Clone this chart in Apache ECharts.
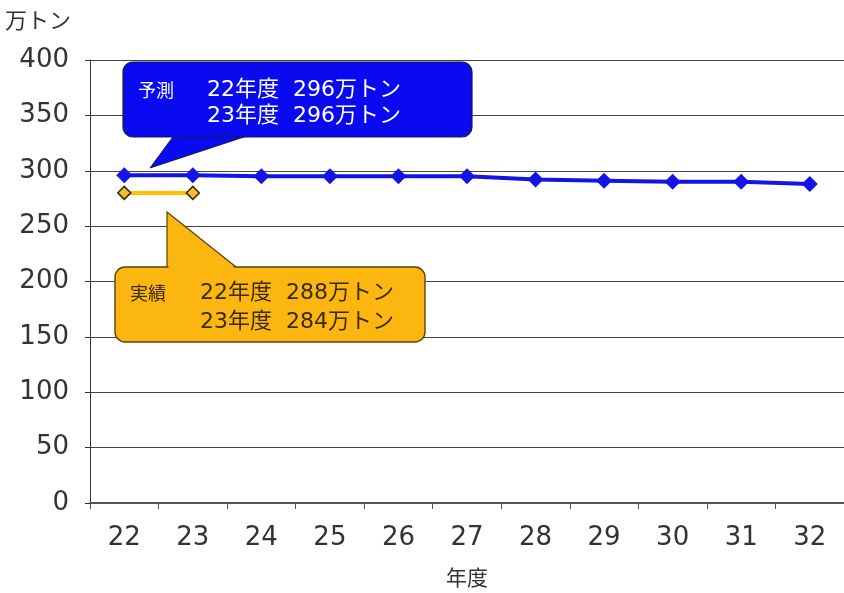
<!DOCTYPE html>
<html><head><meta charset="utf-8">
<script src="https://cdn.jsdelivr.net/npm/echarts@6/dist/echarts.min.js"></script>
<style>html,body{margin:0;padding:0;background:#fff}#c{width:844px;height:593px}</style>
</head><body><div id="c"></div>
<script>
const categories = ['22','23','24','25','26','27','28','29','30','31','32'];
const forecast = [296,296,295,295,295,295,292,291,290,290,288];
const actual = [280,280,null,null,null,null,null,null,null,null,null];
const yTicks = {min:0, max:400, interval:50};
const FONT = '"DejaVu Sans", sans-serif';
const JP = '"Noto Sans CJK JP", sans-serif';
const MIX = '"DejaVu Sans", "Noto Sans CJK JP", sans-serif';

const chart = echarts.init(document.getElementById('c'), null, {renderer:'canvas'});
chart.setOption({
  animation:false,
  backgroundColor:'#fff',
  grid:{left:90, right:-7, top:60, bottom:89, containLabel:false},
  xAxis:{
    type:'category', data:categories, boundaryGap:true,
    name:'年度', nameLocation:'middle', nameGap:64,
    nameTextStyle:{fontFamily:JP, fontSize:21, color:'#333'},
    axisLine:{lineStyle:{color:'#555', width:2}},
    axisTick:{show:true, length:6, lineStyle:{color:'#555'}},
    axisLabel:{fontFamily:FONT, fontSize:26, color:'#333', margin:22},
    splitLine:{show:false}
  },
  yAxis:{
    type:'value', min:yTicks.min, max:yTicks.max, interval:yTicks.interval,
    axisLine:{show:true, lineStyle:{color:'#333', width:1}},
    axisTick:{show:true, length:5, lineStyle:{color:'#333'}},
    axisLabel:{fontFamily:FONT, fontSize:26, color:'#333', margin:21},
    splitLine:{lineStyle:{color:'#444', width:1}}
  },
  series:[
    {name:'実績', type:'line', data:actual, connectNulls:false,
     symbol:'diamond', symbolSize:13,
     lineStyle:{color:'#FFC000', width:4},
     itemStyle:{color:'#F2C02A', borderColor:'#3a2a00', borderWidth:1.5}, z:2},
    {name:'予測', type:'line', data:forecast,
     symbol:'diamond', symbolSize:16,
     lineStyle:{color:'#1414E6', width:4},
     itemStyle:{color:'#1414E6'}, z:3}
  ],
  graphic:[
    {type:'text', left:5, top:9, style:{text:'万トン', font:'22px '+JP, fill:'#333'}},
    // blue callout
    {type:'polygon', shape:{points:[[150,168],[178,130],[265,130]]}, style:{fill:'#0A0AF0', stroke:'#1a1a40', lineWidth:1}, z:10},
    {type:'rect', shape:{x:123, y:62, width:349, height:75, r:10}, style:{fill:'#0A0AF0', stroke:'#1a1a40', lineWidth:1.2}, z:11},
    {type:'polygon', shape:{points:[[152,165],[180,130],[262,130],[262,135],[178,136]]}, style:{fill:'#0A0AF0'}, z:12},
    {type:'text', x:138, y:90, style:{text:'予測', font:'18px '+JP, fill:'#fff', textVerticalAlign:'middle'}, z:13},
    {type:'text', x:207, y:90, style:{text:'22年度  296万トン', font:'22px '+MIX, fill:'#fff', textVerticalAlign:'middle'}, z:13},
    {type:'text', x:207, y:116, style:{text:'23年度  296万トン', font:'22px '+MIX, fill:'#fff', textVerticalAlign:'middle'}, z:13},
    // orange callout
    {type:'polygon', shape:{points:[[167,212],[167,275],[246,275]]}, style:{fill:'#FBB710', stroke:'#5a4010', lineWidth:1.2}, z:10},
    {type:'rect', shape:{x:115, y:267, width:310, height:75, r:10}, style:{fill:'#FBB710', stroke:'#5a4010', lineWidth:1.4}, z:11},
    {type:'polygon', shape:{points:[[168.5,216],[168.5,272],[240,272]]}, style:{fill:'#FBB710'}, z:12},
    {type:'text', x:130, y:293, style:{text:'実績', font:'18px '+JP, fill:'#3a2a08', textVerticalAlign:'middle'}, z:13},
    {type:'text', x:200, y:293, style:{text:'22年度  288万トン', font:'22px '+MIX, fill:'#3a2a08', textVerticalAlign:'middle'}, z:13},
    {type:'text', x:200, y:322, style:{text:'23年度  284万トン', font:'22px '+MIX, fill:'#3a2a08', textVerticalAlign:'middle'}, z:13}
  ]
});
</script></body></html>
